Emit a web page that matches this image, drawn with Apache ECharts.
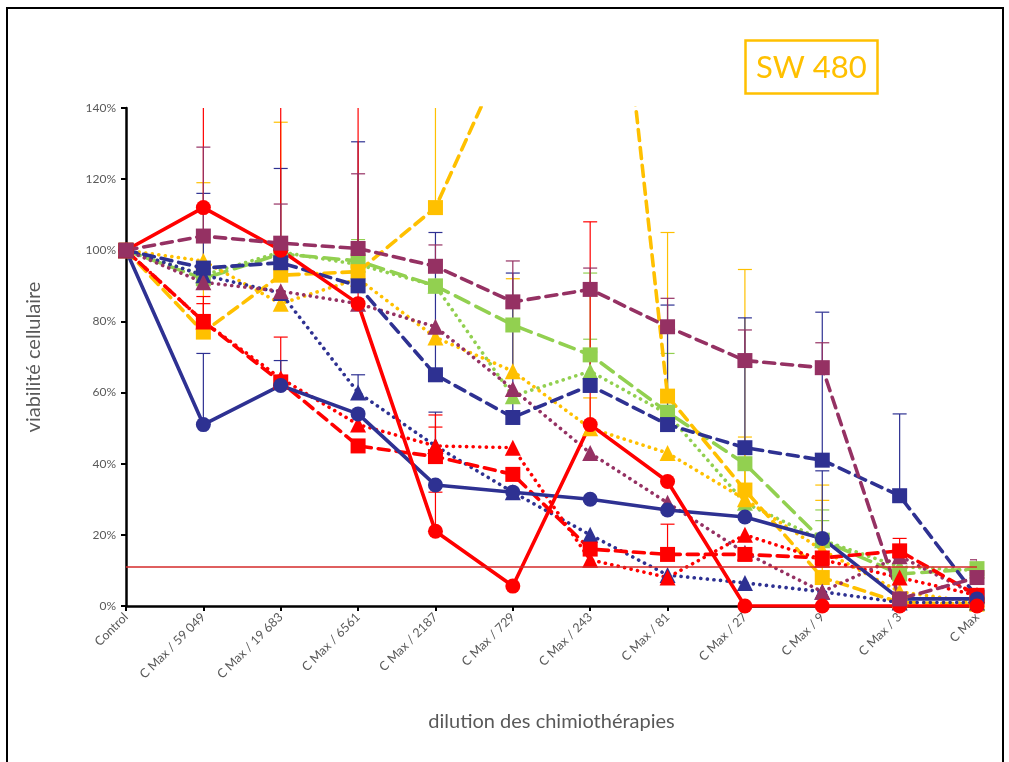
<!DOCTYPE html>
<html><head><meta charset="utf-8">
<script src="https://cdn.jsdelivr.net/npm/echarts@6/dist/echarts.min.js"></script>
<style>html,body{margin:0;padding:0;background:#fff}#c{width:1009px;height:762px}</style>
</head><body><div id="c"></div>
<script>
// ---- data ----
const categories = ['Control','C Max / 59 049','C Max / 19 683','C Max / 6561','C Max / 2187','C Max / 729','C Max / 243','C Max / 81','C Max / 27','C Max / 9','C Max / 3','C Max'];
const chartTitle = 'SW 480';
const yTitle = 'viabilité cellulaire';
const xTitle = 'dilution des chimiothérapies';
const thresholdValue = 11;

const blueCircle      = [100, 51, 62, 54, 34, 32, 30, 27, 25, 19, 2, 2];
const blueCircleErr   = [null, 20, 7, null, null, null, null, null, null, 19, null, null];
const redCircle       = [100, 112, 100, 85, 21, 5.6, 51, 35, 0, 0, 0, 0];
const redCircleErr    = [null, 40, 45, 60, 11, null, 57, null, null, null, null, null];
const blueSquare      = [100, 95, 96.5, 90, 65, 53, 62, 51, 44.5, 41, 31, 2.5];
const blueSquareErr   = [null, 21, 26.5, 40.5, 40, 40.6, 9.4, 33.6, 36.5, 41.6, 23, null];
const redSquare       = [100, 80, 63, 45, 42, 37, 16, 14.5, 14.5, 13.5, 15.5, 3];
const redSquareErr    = [null, 7, null, null, 11.7, null, null, 8.5, null, null, 3.5, null];
const magentaSquare   = [100, 104, 102, 100.5, 95.5, 85.5, 89, 78.5, 69, 67, 2, 8];
const magentaSquareErr= [null, 25, 11, 21, 6, 11.5, 6, 8, 8.6, 7, null, 5];
const yellowSquare    = [100, 77, 93, 94, 112, 160, 257, 59, 32.6, 8, 1, 0.5];
const yellowSquareErr = [null, 42, 43, null, 40, null, null, 46, 62, 26, null, null];
const greenSquare     = [100, 92, 99, 97, 90, 79, 70.6, 54.5, 40, 18.5, 9, 10.5];
const greenSquareErr  = [null, null, null, 6, null, null, 23, 16.5, null, 5.5, null, null];
const blueTriangle    = [100, 93, 88, 60, 45, 32, 20, 8.7, 6.5, 4, 1, 1];
const blueTriangleErr = [null, null, null, 5, 9.5, null, null, null, null, null, null, null];
const redTriangle     = [100, 80, 64, 51, 45, 44.5, 13, 8, 20, 13, 8, 3];
const redTriangleErr  = [null, 5, 11.6, null, 5.3, null, null, null, null, null, null, null];
const magentaTriangle = [100, 91, 88.5, 85, 78.5, 61, 43, 29, 15, 4, 14, 3];
const magentaTriangleErr=[null, null, null, null, null, null, null, null, null, null, null, null];
const yellowTriangle  = [100, 97, 85, 92, 75.5, 66, 50, 43, 30, 15.7, 4, 1];
const yellowTriangleErr=[null, null, null, null, null, 26, 8.5, null, 17.5, 14, null, null];
const greenTriangle   = [100, 93, 99.5, 96, 90, 59, 66, 54, 29, 18.5, 11, 10];
const greenTriangleErr= [null, null, null, null, null, null, 9, null, 10.6, 8.5, null, null];

// ---- styles ----
const NAVY = '#2E3192', RED = '#FF0000', MAG = '#953163', YEL = '#FFC000', GRN = '#92D050';
const DOT = [0.1, 6.5], DASH = [11, 7], LDASH = [15, 8];
const specs = [
  {name:'greenTriangle', data:greenTriangle, err:greenTriangleErr, color:GRN, symbol:'triangle', dash:DOT},
  {name:'greenSquare', data:greenSquare, err:greenSquareErr, color:GRN, symbol:'rect', dash:LDASH},
  {name:'yellowTriangle', data:yellowTriangle, err:yellowTriangleErr, color:YEL, symbol:'triangle', dash:DOT},
  {name:'yellowSquare', data:yellowSquare, err:yellowSquareErr, color:YEL, symbol:'rect', dash:DASH},
  {name:'blueTriangle', data:blueTriangle, err:blueTriangleErr, color:NAVY, symbol:'triangle', dash:DOT},
  {name:'redTriangle', data:redTriangle, err:redTriangleErr, color:RED, symbol:'triangle', dash:DOT},
  {name:'magentaTriangle', data:magentaTriangle, err:magentaTriangleErr, color:MAG, symbol:'triangle', dash:DOT},
  {name:'blueSquare', data:blueSquare, err:blueSquareErr, color:NAVY, symbol:'rect', dash:DASH},
  {name:'redSquare', data:redSquare, err:redSquareErr, color:RED, symbol:'rect', dash:DASH},
  {name:'blueCircle', data:blueCircle, err:blueCircleErr, color:NAVY, symbol:'circle', dash:'solid'},
  {name:'redCircle', data:redCircle, err:redCircleErr, color:RED, symbol:'circle', dash:'solid'},
  {name:'magentaSquare', data:magentaSquare, err:magentaSquareErr, color:MAG, symbol:'rect', dash:DASH}
];

const FONT = 'Lato';
const series = [];
specs.forEach(function(s){
  const errData = [];
  s.err.forEach(function(e, i){ if (e != null) errData.push([i, s.data[i], s.data[i] + e]); });
  series.push({
    type:'custom', name:s.name + ' err', z:1, clip:true, silent:true,
    data: errData,
    encode:{x:0, y:[1,2]},
    renderItem: function(params, api){
      const p1 = api.coord([api.value(0), api.value(1)]);
      const p2 = api.coord([api.value(0), api.value(2)]);
      return {type:'group', children:[
        {type:'line', shape:{x1:p1[0], y1:p1[1], x2:p2[0], y2:p2[1]}, style:{stroke:s.color, lineWidth:1.2}},
        {type:'line', shape:{x1:p2[0]-7, y1:p2[1], x2:p2[0]+7, y2:p2[1]}, style:{stroke:s.color, lineWidth:1.2}}
      ]};
    }
  });
});
specs.forEach(function(s){
  series.push({
    type:'line', name:s.name, data:s.data, z:3, clip:true,
    symbol:s.symbol, symbolSize: s.symbol==='triangle' ? 16 : 15,
    showAllSymbol:true,
    itemStyle:{color:s.color},
    lineStyle:{color:s.color, width:3.6, type:s.dash, cap:'round'}
  });
});
series.push({
  type:'line', name:'threshold', data:[], silent:true, z:2,
  markLine:{silent:true, symbol:['none','none'], label:{show:false},
    lineStyle:{color:'#D42A2A', width:1.5, type:'solid', opacity:1}, data:[{yAxis:thresholdValue}]}
});

const chart = echarts.init(document.getElementById('c'), null, {renderer:'canvas'});
chart.setOption({
  animation:false,
  backgroundColor:'#fff',
  title:{text:chartTitle, left:745, top:40, borderColor:YEL, borderWidth:2.5, padding:[12,11,11,11],
    textStyle:{color:YEL, fontSize:31, fontWeight:'normal', fontFamily:FONT}},
  graphic:[{type:'rect', shape:{x:7, y:8, width:996, height:760}, style:{fill:'none', stroke:'#000', lineWidth:2}, silent:true}],
  grid:{left:126, right:32, top:108, bottom:156},
  xAxis:{type:'category', data:categories, boundaryGap:false,
    name:xTitle, nameLocation:'middle', nameGap:106,
    nameTextStyle:{color:'#595959', fontSize:20, fontFamily:FONT},
    axisLine:{lineStyle:{color:'#000', width:2.5}},
    axisTick:{show:true, alignWithLabel:true, length:5, lineStyle:{color:'#000', width:2}},
    axisLabel:{rotate:45, color:'#595959', fontSize:12.5, fontFamily:FONT, margin:9, interval:0},
    splitLine:{show:false}},
  yAxis:{type:'value', min:0, max:140, interval:20,
    name:yTitle, nameLocation:'middle', nameGap:82, nameRotate:90,
    nameTextStyle:{color:'#595959', fontSize:20, fontFamily:FONT},
    axisLine:{show:true, lineStyle:{color:'#000', width:2.5}},
    axisTick:{show:true, length:5, lineStyle:{color:'#000', width:2}},
    axisLabel:{formatter:'{value}%', color:'#595959', fontSize:12, fontFamily:FONT, margin:10},
    splitLine:{show:false}},
  series:series
});
</script></body></html>
